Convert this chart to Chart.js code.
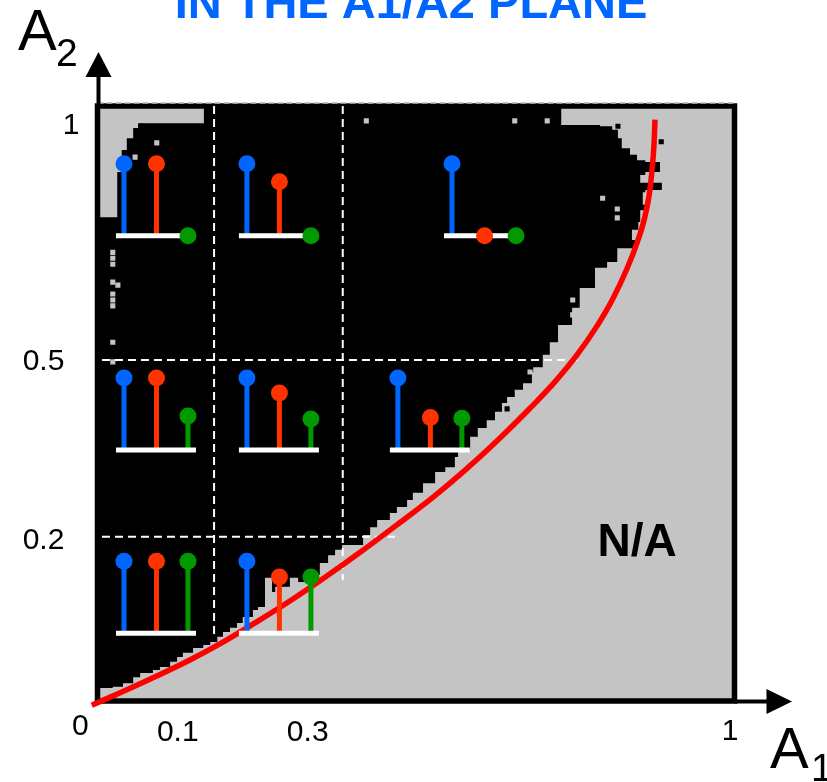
<!DOCTYPE html>
<html>
<head>
<meta charset="utf-8">
<script src="https://cdn.jsdelivr.net/npm/chart.js@4.4.1/dist/chart.umd.min.js"></script>
<style>
html,body{margin:0;padding:0;background:#fff;}
#wrap{width:827px;height:782px;position:relative;}
</style>
</head>
<body>
<div id="wrap"><canvas id="c" width="827" height="782"></canvas></div>
<script>
// ================= DATA (plane coordinates, A1 horizontal, A2 vertical) =================
const titleText = 'IN THE A1/A2 PLANE';
const regionText = 'N/A';
const regionTextAt = [0.847, 0.272];

// tick labels and where they sit along each axis
const xTickLabels = ['0', '0.1', '0.3', '1'];
const xTickValues = [-0.027, 0.126, 0.330, 0.993];
const yTickLabels = ['1', '0.5', '0.2'];
const yTickValues = [0.972, 0.575, 0.274];

// red boundary curve
const curveA1 = [-0.009, 0.040, 0.093, 0.145, 0.197, 0.250, 0.302, 0.360, 0.415, 0.470, 0.525, 0.574, 0.627, 0.679, 0.717, 0.753, 0.784, 0.808, 0.831, 0.847, 0.858, 0.866, 0.8705, 0.8736, 0.8752];
const curveA2 = [-0.007, 0.016, 0.042, 0.069, 0.099, 0.133, 0.168, 0.210, 0.252, 0.296, 0.341, 0.385, 0.437, 0.492, 0.535, 0.582, 0.630, 0.674, 0.726, 0.770, 0.808, 0.850, 0.892, 0.935, 0.977];

// outline of the black (allowed) region
const regionA1 = [0.167,0.728,0.728,0.789,0.808,0.817,0.823,0.836,0.847,0.860,0.883,0.883,0.860,0.852,0.886,0.886,0.860,0.856,0.864,0.852,0.849,0.839,0.847,0.816,0.800,0.781,0.757,0.745,0.723,0.710,0.699,0.684,0.682,0.668,0.655,0.643,0.635,0.624,0.611,0.597,0.585,0.566,0.561,0.546,0.530,0.511,0.495,0.486,0.470,0.459,0.439,0.428,0.417,0.384,0.373,0.362,0.349,0.326,0.315,0.305,0.302,0.279,0.274,0.263,0.263,0.252,0.244,0.228,0.219,0.208,0.197,0.188,0.177,0.166,0.150,0.134,0.125,0.114,0.098,0.087,0.067,0.056,0.040,0.024,0.004,0.000,0.000,0.031,0.031,0.038,0.038,0.046,0.046,0.056,0.056,0.064,0.064,0.167];
const regionA2 = [1.000,1.000,0.968,0.966,0.960,0.946,0.929,0.918,0.909,0.906,0.904,0.889,0.884,0.871,0.869,0.859,0.855,0.834,0.825,0.805,0.792,0.775,0.761,0.738,0.728,0.694,0.661,0.632,0.603,0.582,0.561,0.553,0.534,0.523,0.511,0.501,0.486,0.472,0.459,0.444,0.422,0.410,0.393,0.385,0.366,0.350,0.338,0.326,0.316,0.304,0.292,0.279,0.262,0.254,0.245,0.232,0.212,0.200,0.207,0.207,0.192,0.183,0.207,0.207,0.158,0.153,0.141,0.131,0.123,0.116,0.108,0.099,0.094,0.089,0.081,0.074,0.066,0.057,0.052,0.047,0.040,0.030,0.024,0.022,0.018,0.018,0.813,0.813,0.889,0.889,0.926,0.926,0.946,0.946,0.963,0.963,0.971,0.971];

// isolated grid cells
const grayCellA1 = [0.422,0.655,0.706,0.024,0.024,0.024,0.024,0.032,0.024,0.024,0.024,0.024,0.024,0.093,0.059,0.793,0.816,0.816,0.746,0.746,0.792,0.679];
const grayCellA2 = [0.975,0.975,0.975,0.754,0.744,0.734,0.704,0.699,0.684,0.674,0.664,0.603,0.570,0.938,0.914,0.845,0.827,0.812,0.674,0.649,0.708,0.553];
const blackCellA1 = [0.885,0.068,0.817,0.643];
const blackCellA2 = [0.940,0.966,0.966,0.491];

// dashed partition lines
const vLineA1 = [0.183, 0.385];
const vLineEndA2 = [0.111, 0.203];
const hLineA2 = [0.573, 0.276];
const hLineEndA1 = [0.753, 0.467];

// stem glyphs: anchor (baseline left end) and relative amplitudes of the three components
const glyphA1 = [0.029, 0.222, 0.544, 0.029, 0.222, 0.459, 0.029, 0.222];
const glyphA2 = [0.782, 0.782, 0.782, 0.422, 0.422, 0.422, 0.114, 0.114];
const ampBlue  = [1, 1, 1, 1, 1, 1, 1, 1];
const ampRed   = [1, 0.75, 0, 1, 0.79, 0.45, 1, 0.78];
const ampGreen = [0, 0, 0, 0.47, 0.43, 0.44, 1, 0.78];

// ================= LAYOUT / STYLE =================
const GRAY = '#c4c4c4';
const BLUE = '#0066ff', ORANGE = '#ff3300', GREEN = '#009900';
const STEM_DX = [8/637, 40.5/637, 72/637];   // offsets of the stems along the glyph baseline
const BASE_LEN = 80/637;
const STEM_H = 72/595;
const FONT = '"Liberation Sans", Arial, Helvetica, sans-serif';

const pts = (xs, ys) => xs.map((x, i) => ({x, y: ys[i]}));

const datasets = [];
// 0: black region
datasets.push({
  data: pts(regionA1, regionA2), showLine: true, fill: 'shape', stepped: true,
  backgroundColor: '#000', borderColor: 'rgba(0,0,0,0)', borderWidth: 0,
  pointRadius: 0, order: 30
});
datasets.push({
  data: pts(grayCellA1, grayCellA2), showLine: false, pointStyle: 'rect',
  pointRadius: 3.6, backgroundColor: GRAY, borderWidth: 0, order: 29
});
datasets.push({
  data: pts(blackCellA1, blackCellA2), showLine: false, pointStyle: 'rect',
  pointRadius: 3.6, backgroundColor: '#000', borderWidth: 0, order: 29
});
vLineA1.forEach((v, i) => datasets.push({
  data: [{x: v, y: 1}, {x: v, y: vLineEndA2[i]}], showLine: true,
  borderColor: '#fff', borderWidth: 2, borderDash: [8, 5], pointRadius: 0, order: 25
}));
hLineA2.forEach((v, i) => datasets.push({
  data: [{x: 0.007, y: v}, {x: hLineEndA1[i], y: v}], showLine: true,
  borderColor: '#fff', borderWidth: 2, borderDash: [8, 5], pointRadius: 0, order: 25
}));
// thin dashed line along top edge
datasets.push({
  data: [{x: 0, y: 1.005}, {x: 1, y: 1.005}], showLine: true, clip: false,
  borderColor: '#b8b8b8', borderWidth: 1.5, borderDash: [6, 3], pointRadius: 0, order: 24
});
// red boundary curve
datasets.push({
  data: pts(curveA1, curveA2), showLine: true, clip: false, cubicInterpolationMode: 'monotone',
  borderColor: '#ff0000', borderWidth: 5.5, pointRadius: 0, fill: false, order: 20
});
// glyph stems
const amps = [ampBlue, ampRed, ampGreen];
const cols = [BLUE, ORANGE, GREEN];
const dots = [[], [], []];
glyphA1.forEach((gx, g) => {
  const gy = glyphA2[g];
  amps.forEach((amp, c) => {
    const sx = gx + STEM_DX[c];
    const top = gy + amp[g] * STEM_H;
    dots[c].push({x: sx, y: top});
    if (amp[g] > 0) {
      datasets.push({
        data: [{x: sx, y: gy}, {x: sx, y: top}], showLine: true,
        borderColor: cols[c], borderWidth: 5, borderCapStyle: 'butt', pointRadius: 0, order: 12
      });
    }
  });
  datasets.push({
    data: [{x: gx, y: gy}, {x: gx + BASE_LEN, y: gy}], showLine: true,
    borderColor: '#fff', borderWidth: 5, borderCapStyle: 'butt', pointRadius: 0, order: 11
  });
});
dots.forEach((d, c) => datasets.push({
  data: d, showLine: false, pointRadius: 8.5, pointStyle: 'circle',
  backgroundColor: cols[c], borderWidth: 0, order: 10
}));

const deco = {
  id: 'deco',
  beforeDatasetsDraw(chart) {
    const {ctx, chartArea: a} = chart;
    ctx.save();
    ctx.fillStyle = GRAY;
    ctx.fillRect(a.left, a.top, a.right - a.left, a.bottom - a.top);
    ctx.restore();
  },
  afterDatasetDraw(chart, args) {
    if (args.index !== 0) return;
    const {ctx, chartArea: a} = chart;
    ctx.save();
    ctx.strokeStyle = '#000';
    ctx.lineWidth = 5.5;
    ctx.strokeRect(a.left, a.top, a.right - a.left, a.bottom - a.top);
    ctx.restore();
  },
  afterDraw(chart) {
    const {ctx, chartArea: a, scales: {x, y}} = chart;
    ctx.save();
    ctx.fillStyle = '#000'; ctx.strokeStyle = '#000'; ctx.lineWidth = 4;
    // vertical axis arrow
    const ax = a.left + 1;
    ctx.beginPath(); ctx.moveTo(ax, a.top); ctx.lineTo(ax, a.top - 32); ctx.stroke();
    ctx.beginPath(); ctx.moveTo(ax, a.top - 54); ctx.lineTo(ax - 13, a.top - 29); ctx.lineTo(ax + 13, a.top - 29); ctx.closePath(); ctx.fill();
    // horizontal axis arrow
    const ay = a.bottom + 0.5;
    ctx.beginPath(); ctx.moveTo(a.right, ay); ctx.lineTo(a.right + 34, ay); ctx.stroke();
    ctx.beginPath(); ctx.moveTo(a.right + 57.5, ay); ctx.lineTo(a.right + 32, ay - 12.5); ctx.lineTo(a.right + 32, ay + 12.5); ctx.closePath(); ctx.fill();

    // tick labels
    ctx.font = '30px ' + FONT;
    ctx.textAlign = 'center'; ctx.textBaseline = 'alphabetic';
    const xDy = [34, 40, 40, 39];
    xTickLabels.forEach((t, i) => ctx.fillText(t, x.getPixelForValue(xTickValues[i]), a.bottom + xDy[i]));
    const yLabelX = [71, 43.5, 43.5];
    yTickLabels.forEach((t, i) => ctx.fillText(t, yLabelX[i], y.getPixelForValue(yTickValues[i]) + 11));

    // axis names
    ctx.textAlign = 'left';
    ctx.font = '58px ' + FONT;
    ctx.fillText('A', 18, 50);
    ctx.fillText('A', 770, 768);
    ctx.font = '39px ' + FONT;
    ctx.fillText('2', 56, 66);
    ctx.fillText('1', 811, 781);

    // region label
    ctx.textAlign = 'center';
    ctx.font = 'bold 46px ' + FONT;
    ctx.fillText(regionText, x.getPixelForValue(regionTextAt[0]), y.getPixelForValue(regionTextAt[1]) + 17);

    // title (partly above the page edge)
    ctx.fillStyle = BLUE;
    ctx.font = 'bold 47px ' + FONT;
    ctx.fillText(titleText, 411, 18);
    ctx.restore();
  }
};

new Chart(document.getElementById('c'), {
  type: 'scatter',
  data: {datasets},
  options: {
    responsive: false,
    animation: false,
    events: [],
    layout: {padding: {left: 97.5, right: 92.5, top: 106, bottom: 81}},
    scales: {
      x: {type: 'linear', min: 0, max: 1, display: false},
      y: {type: 'linear', min: 0, max: 1, display: false}
    },
    plugins: {legend: {display: false}, tooltip: {enabled: false}, title: {display: false}}
  },
  plugins: [deco]
});
</script>
</body>
</html>
